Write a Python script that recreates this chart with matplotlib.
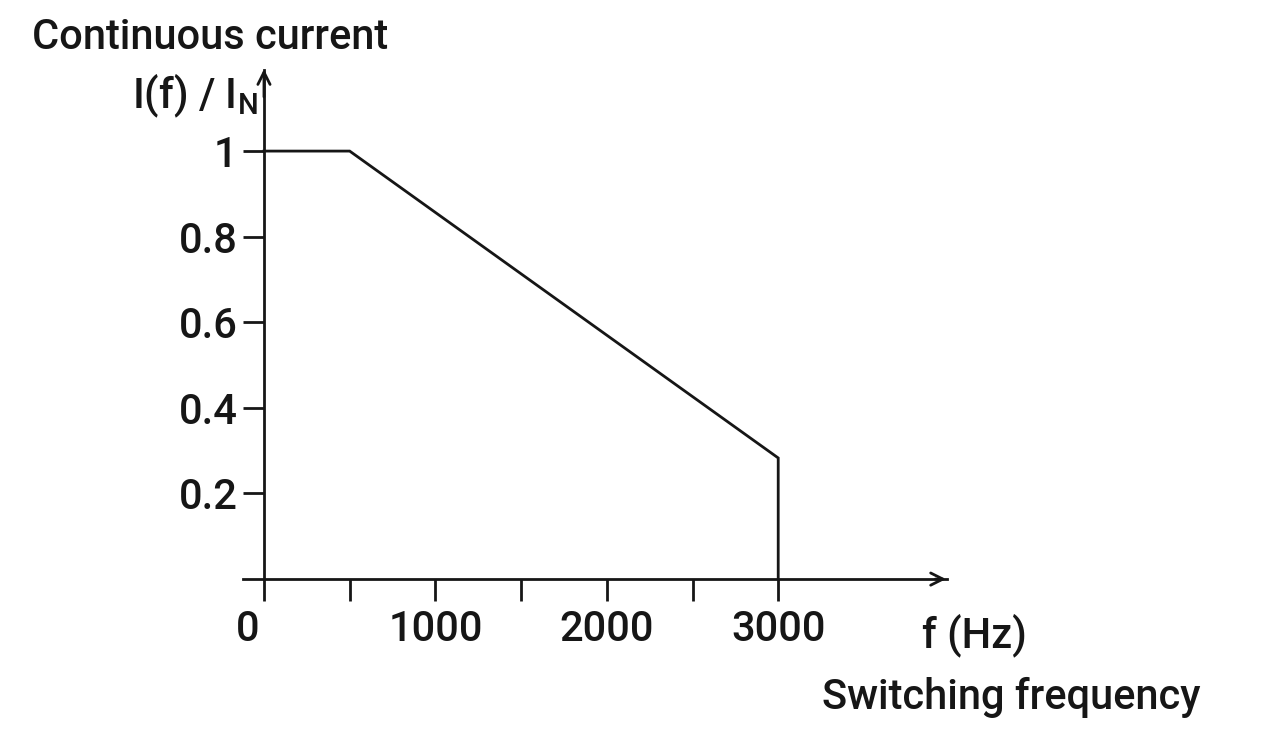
import matplotlib
matplotlib.use("Agg")
import matplotlib.pyplot as plt
from matplotlib.transforms import ScaledTranslation

freq = [0, 500, 3000, 3000]
current = [1.0, 1.0, 0.283, 0.0]
xticks = [0, 500, 1000, 1500, 2000, 2500, 3000]
xticklabels = ["0", "", "1000", "", "2000", "", "3000"]
yticks = [0.2, 0.4, 0.6, 0.8, 1.0]
yticklabels = ["0.2", "0.4", "0.6", "0.8", "1"]

plt.rcParams["font.family"] = ["Roboto", "DejaVu Sans"]
plt.rcParams["font.weight"] = 500

fig = plt.figure(figsize=(12.64, 7.52), dpi=100)
ax = fig.add_axes([0, 0, 1, 1])
ax.set_xlim(-1540, 5834)
ax.set_ylim(-0.404, 1.353)
ax.patch.set_visible(False)

ink = "#161616"
lw = 2.0
ax.plot(freq, current, color=ink, lw=lw, solid_joinstyle="miter")

for s in ["top", "right"]:
    ax.spines[s].set_visible(False)
ax.spines["left"].set_position(("data", 0))
ax.spines["bottom"].set_position(("data", 0))
ax.spines["left"].set_bounds(0, 1.19)
ax.spines["bottom"].set_bounds(-122, 3985)
for s in ["left", "bottom"]:
    ax.spines[s].set_linewidth(lw)
    ax.spines[s].set_color(ink)

# arrow heads
ax.annotate("", xy=(3995, 0), xytext=(3900, 0),
            arrowprops=dict(arrowstyle="->", lw=lw, color=ink, mutation_scale=22))
ax.annotate("", xy=(0, 1.198), xytext=(0, 1.12),
            arrowprops=dict(arrowstyle="->", lw=lw, color=ink, mutation_scale=22))

fs = 30
ax.set_xticks(xticks)
ax.set_xticklabels(xticklabels)
ax.set_yticks(yticks)
ax.set_yticklabels(yticklabels)
ax.tick_params(axis="x", direction="out", length=15.8, width=lw, pad=6,
               labelsize=fs, color=ink, labelcolor=ink)
ax.tick_params(axis="y", direction="out", length=15.2, width=lw, pad=4,
               labelsize=fs, color=ink, labelcolor=ink)
lab0 = ax.get_xticklabels()[0]
lab0.set_transform(lab0.get_transform() + ScaledTranslation(-16 / 100, 0, fig.dpi_scale_trans))

ax.text(3839, -0.131, "f (Hz)", fontsize=fs, ha="left", va="center", color=ink)
ax.text(5461, -0.276, "Switching frequency", fontsize=fs, ha="right", va="center", color=ink)
ax.text(-1355, 1.266, "Continuous current", fontsize=fs, ha="left", va="center", color=ink)
ax.text(-35, 1.13, r"I(f) / I$_{\mathregular{N}}$", fontsize=fs, ha="right", va="center", color=ink)

fig.savefig("out.png", dpi=100)
